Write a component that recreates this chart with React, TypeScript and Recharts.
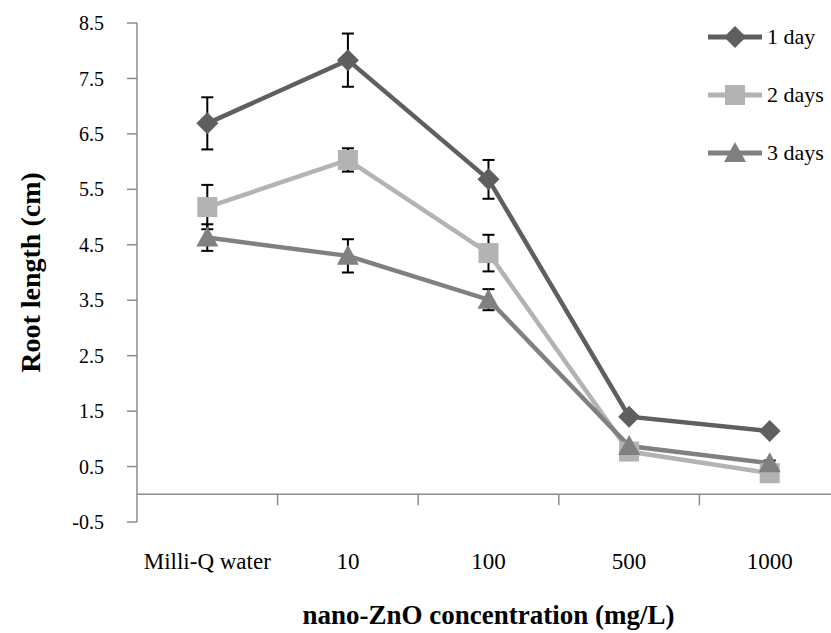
import React from 'react';
import {
  LineChart,
  Line,
  XAxis,
  YAxis,
  ErrorBar,
  ReferenceLine,
  Legend,
  Label,
} from 'recharts';

// nano-ZnO concentrations (mg/L)
const categories = ['Milli-Q water', '10', '100', '500', '1000'];

// root length (cm) and standard error per exposure time
const day1 = [6.69, 7.83, 5.68, 1.4, 1.14];
const day1Err = [0.47, 0.48, 0.35, 0.05, 0];
const day2 = [5.18, 6.03, 4.35, 0.77, 0.38];
const day2Err = [0.4, 0.21, 0.33, 0.04, 0.04];
const day3 = [4.63, 4.3, 3.51, 0.87, 0.56];
const day3Err = [0.24, 0.3, 0.19, 0.04, 0.05];

const yTicks = [-0.5, 0.5, 1.5, 2.5, 3.5, 4.5, 5.5, 6.5, 7.5, 8.5];
const xBoundaries = [1, 2, 3, 4];

const FONT = "'Liberation Serif', 'DejaVu Serif', serif";
const AXIS_GRAY = '#8c8c8c';

type Shape = 'diamond' | 'square' | 'triangle';

const series: { key: string; err: string; name: string; color: string; shape: Shape }[] = [
  { key: 'day1', err: 'day1Err', name: '1 day', color: '#5f5f5f', shape: 'diamond' },
  { key: 'day2', err: 'day2Err', name: '2 days', color: '#b3b3b3', shape: 'square' },
  { key: 'day3', err: 'day3Err', name: '3 days', color: '#808080', shape: 'triangle' },
];

const data = categories.map((name, i) => ({
  name,
  x: i + 0.5,
  day1: day1[i],
  day1Err: day1Err[i],
  day2: day2[i],
  day2Err: day2Err[i],
  day3: day3[i],
  day3Err: day3Err[i],
}));

const markerPath = (shape: Shape, cx: number, cy: number, color: string, key?: string) => {
  if (shape === 'diamond') {
    return (
      <polygon
        key={key}
        points={`${cx},${cy - 11} ${cx + 11},${cy} ${cx},${cy + 11} ${cx - 11},${cy}`}
        fill={color}
      />
    );
  }
  if (shape === 'square') {
    return <rect key={key} x={cx - 10} y={cy - 10} width={20} height={20} fill={color} />;
  }
  return (
    <polygon
      key={key}
      points={`${cx},${cy - 11} ${cx + 11},${cy + 9} ${cx - 11},${cy + 9}`}
      fill={color}
    />
  );
};

const makeDot = (shape: Shape, color: string) => (props: any) => {
  const { cx, cy, index } = props;
  if (cx == null || cy == null) return <g key={`e-${index}`} />;
  return markerPath(shape, cx, cy, color, `${shape}-${index}`);
};

const CategoryTick = (props: any) => {
  const { x, y, payload } = props;
  const idx = Math.round(payload.value - 0.5);
  return (
    <text x={x} y={y + 47} textAnchor="middle" style={{ fontFamily: FONT }} fontSize={23} fill="#000">
      {categories[idx]}
    </text>
  );
};

const LegendBox = () => (
  <div style={{ fontFamily: FONT, fontSize: 22, color: '#000' }}>
    {series.map((s) => (
      <div key={s.key} style={{ display: 'flex', alignItems: 'center', height: 58 }}>
        <svg width={54} height={26} style={{ marginRight: 5 }}>
          <line x1={0} y1={13} x2={54} y2={13} stroke={s.color} strokeWidth={5} strokeLinecap="round" />
          {markerPath(s.shape, 27, 13, s.color)}
        </svg>
        <span>{s.name}</span>
      </div>
    ))}
  </div>
);

export default function App() {
  return (
    <div
      style={{
        position: 'absolute',
        left: 0,
        top: 0,
        width: 831,
        height: 633,
        overflow: 'hidden',
        background: '#fff',
        fontFamily: FONT,
      }}
    >
      <LineChart
        width={850}
        height={633}
        data={data}
        margin={{ top: 23, right: 10, bottom: 0, left: 0 }}
        style={{ fontFamily: FONT }}
      >
        <XAxis
          dataKey="x"
          type="number"
          domain={[0, 5]}
          ticks={data.map((d) => d.x)}
          axisLine={false}
          tickLine={false}
          tickSize={0}
          tickMargin={0}
          height={111}
          tick={<CategoryTick />}
          interval={0}
        >
          <Label
            content={({ viewBox }: any) => (
              <text
                x={viewBox.x + viewBox.width / 2}
                y={viewBox.y + 102}
                textAnchor="middle"
                style={{ fontFamily: FONT }}
                fontWeight="bold"
                fontSize={27}
                fill="#000"
              >
                nano-ZnO concentration (mg/L)
              </text>
            )}
          />
        </XAxis>
        <YAxis
          type="number"
          domain={[-0.5, 8.5]}
          ticks={yTicks}
          interval={0}
          width={137}
          axisLine={{ stroke: AXIS_GRAY, strokeWidth: 1.5 }}
          tickLine={{ stroke: AXIS_GRAY, strokeWidth: 1.5 }}
          tickSize={10}
          tickMargin={23}
          tickFormatter={(v: number) => v.toFixed(1)}
          tick={{ fontSize: 20, fill: '#000', style: { fontFamily: FONT } }}
        >
          <Label
            content={({ viewBox }: any) => {
              const cx = viewBox.x + 30;
              const cy = viewBox.y + viewBox.height / 2;
              return (
                <text
                  x={cx}
                  y={cy}
                  transform={`rotate(-90, ${cx}, ${cy})`}
                  textAnchor="middle"
                  dominantBaseline="central"
                  style={{ fontFamily: FONT }}
                  fontWeight="bold"
                  fontSize={28}
                  fill="#000"
                >
                  Root length (cm)
                </text>
              );
            }}
          />
        </YAxis>
        <ReferenceLine y={0} stroke={AXIS_GRAY} strokeWidth={1.5} />
        {xBoundaries.map((b) => (
          <ReferenceLine
            key={b}
            segment={[
              { x: b, y: 0 },
              { x: b, y: -0.2 },
            ]}
            stroke={AXIS_GRAY}
            strokeWidth={1.5}
          />
        ))}
        {/* horizontal + middle + center keeps the legend from shrinking the plot */}
        <Legend
          layout="horizontal"
          verticalAlign="middle"
          align="center"
          content={<LegendBox />}
          wrapperStyle={{ position: 'absolute', top: 8, left: 708, width: 123, height: 174 }}
        />
        {series.map((s) => (
          <Line
            key={s.key}
            type="linear"
            dataKey={s.key}
            name={s.name}
            stroke={s.color}
            strokeWidth={4.5}
            dot={makeDot(s.shape, s.color)}
            activeDot={false}
            isAnimationActive={false}
          >
            <ErrorBar dataKey={s.err} direction="y" width={6} stroke="#000" strokeWidth={2} />
          </Line>
        ))}
      </LineChart>
    </div>
  );
}
